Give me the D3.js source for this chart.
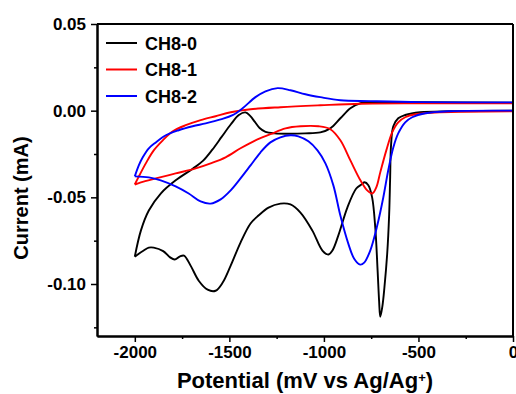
<!DOCTYPE html>
<html>
<head>
<meta charset="utf-8">
<script src="https://cdn.jsdelivr.net/npm/d3@7"></script>
<style>
  body { margin: 0; background: #fff; }
  text { font-family: "Liberation Sans", Arial, sans-serif; font-weight: bold; }
</style>
</head>
<body>
<div id="chart"></div>
<script>
// Series names and colours
const seriesNames = ["CH8-0", "CH8-1", "CH8-2"];
const seriesColors = ["#000000", "#ff0000", "#0000ff"];

// CH8-0: full loop, anodic branch (-2000 -> 0) then cathodic (0 -> -2000)
const ch80Potential = [-2000, -1968, -1926, -1863, -1784, -1694, -1640, -1590, -1540, -1493, -1450, -1415, -1390, -1365, -1340, -1309, -1260, -1180, -1100, -1019, -966, -913, -860, -807, -702, -491, 0,
  0, -333, -491, -570, -607, -633, -645, -650, -655, -665, -680, -691, -702, -708, -716, -728, -745, -765, -785, -800, -829, -876, -924, -955, -976, -1008, -1061, -1124, -1177, -1230, -1293, -1346, -1388, -1441, -1493, -1536, -1573, -1615, -1662, -1705, -1740, -1763, -1789, -1815, -1850, -1900, -1926, -1953, -2000];
const ch80Current = [-0.0842, -0.0692, -0.0576, -0.0478, -0.0402, -0.0335, -0.0290, -0.0225, -0.0150, -0.0080, -0.0025, -0.0010, -0.0030, -0.0065, -0.0100, -0.0122, -0.0131, -0.0133, -0.0131, -0.0125, -0.0102, -0.0044, 0.0014, 0.0043, 0.0049, 0.0049, 0.0046,
  0.0000, -0.0003, -0.0009, -0.0025, -0.0044, -0.0090, -0.0200, -0.0400, -0.0600, -0.0820, -0.1020, -0.1130, -0.1189, -0.1100, -0.0923, -0.0680, -0.0500, -0.0430, -0.0413, -0.0425, -0.0449, -0.0559, -0.0721, -0.0807, -0.0830, -0.0807, -0.0692, -0.0588, -0.0541, -0.0536, -0.0559, -0.0605, -0.0651, -0.0761, -0.0894, -0.0993, -0.1039, -0.1033, -0.0981, -0.0894, -0.0836, -0.0842, -0.0859, -0.0845, -0.0810, -0.0790, -0.0790, -0.0807, -0.0842];

// CH8-1
const ch81Potential = [-2000, -1984, -1942, -1900, -1852, -1799, -1731, -1652, -1573, -1493, -1388, -1230, -1019, -807, -491, 0,
  0, -385, -517, -570, -607, -639, -670, -702, -723, -744, -771, -807, -860, -913, -966, -1029, -1124, -1203, -1283, -1362, -1441, -1520, -1599, -1678, -1784, -1889, -1968, -2000];
const ch81Current = [-0.0426, -0.0391, -0.0304, -0.0229, -0.0171, -0.0119, -0.0084, -0.0055, -0.0032, -0.0009, 0.0008, 0.0020, 0.0031, 0.0040, 0.0042, 0.0042,
  -0.0003, -0.0009, -0.0021, -0.0038, -0.0067, -0.0125, -0.0229, -0.0356, -0.0443, -0.0478, -0.0460, -0.0402, -0.0287, -0.0171, -0.0107, -0.0090, -0.0090, -0.0102, -0.0136, -0.0171, -0.0217, -0.0269, -0.0304, -0.0333, -0.0362, -0.0391, -0.0414, -0.0426];

// CH8-2
const ch82Potential = [-2000, -1979, -1958, -1926, -1889, -1836, -1768, -1694, -1625, -1546, -1483, -1430, -1362, -1309, -1245, -1177, -1098, -1019, -913, -755, -491, 0,
  0, -333, -464, -533, -570, -607, -633, -660, -686, -718, -755, -787, -808, -840, -871, -913, -950, -992, -1034, -1082, -1135, -1177, -1230, -1283, -1335, -1388, -1441, -1493, -1546, -1599, -1652, -1715, -1784, -1863, -1926, -2000];
const ch82Current = [-0.0379, -0.0316, -0.0269, -0.0217, -0.0183, -0.0142, -0.0113, -0.0090, -0.0073, -0.0050, -0.0026, 0.0014, 0.0078, 0.0112, 0.0130, 0.0118, 0.0095, 0.0078, 0.0060, 0.0055, 0.0049, 0.0048,
  0.0000, -0.0003, -0.0015, -0.0038, -0.0067, -0.0131, -0.0212, -0.0345, -0.0501, -0.0663, -0.0807, -0.0877, -0.0888, -0.0854, -0.0767, -0.0605, -0.0431, -0.0304, -0.0229, -0.0177, -0.0148, -0.0142, -0.0154, -0.0183, -0.0240, -0.0316, -0.0391, -0.0460, -0.0512, -0.0536, -0.0524, -0.0478, -0.0437, -0.0402, -0.0385, -0.0379];

// Axis ticks
const xTicks = [-2000, -1500, -1000, -500, 0];
const xMinorTicks = [-1750, -1250, -750, -250];
const yTicks = [0.05, 0.00, -0.05, -0.10];
const yMinorTicks = [0.025, -0.025, -0.075, -0.125];

const allPotentials = [ch80Potential, ch81Potential, ch82Potential];
const allCurrents = [ch80Current, ch81Current, ch82Current];

// Dimensions of chart
let margin = { top: 24, right: 3, bottom: 58, left: 97 },
    width = 516 - margin.left - margin.right,
    height = 394 - margin.top - margin.bottom;

let svg = d3.select("#chart").append("svg")
    .attr("width", 516)
    .attr("height", 394)
    .append("g")
    .attr("transform", "translate(" + margin.left + "," + margin.top + ")");

let x = d3.scaleLinear().domain([-2200, 0]).range([0, width]);
let y = d3.scaleLinear().domain([-0.13, 0.05]).range([height, 0]);

const fmtY = d => d3.format(".2f")(d).replace("\u2212", "-");
const fmtX = d => d3.format("d")(d).replace("\u2212", "-");

// clip for the curves
svg.append("clipPath").attr("id", "clip")
  .append("rect").attr("width", width).attr("height", height);

// Curves
let line = d3.line()
    .x(d => x(d[0]))
    .y(d => y(d[1]))
    .curve(d3.curveCatmullRom.alpha(0.5));

seriesNames.forEach((name, i) => {
    let pts = allPotentials[i].map((v, j) => [v, allCurrents[i][j]]);
    // split the loop at the switching potential (0 mV) into two branches
    let turn = allPotentials[i].indexOf(0);
    [pts.slice(0, turn + 1), pts.slice(turn + 1)].forEach(branch => {
        svg.append("path")
            .datum(branch)
            .attr("clip-path", "url(#clip)")
            .attr("fill", "none")
            .attr("stroke", seriesColors[i])
            .attr("stroke-width", 1.9)
            .attr("stroke-linejoin", "round")
            .attr("d", line);
    });
});

// x axis
let xAxisEl = svg.append("g")
    .attr("transform", "translate(0," + height + ")")
    .call(d3.axisBottom(x).tickValues(xTicks).tickFormat(fmtX).tickSize(6).tickPadding(4).tickSizeOuter(0));
svg.append("g")
    .attr("transform", "translate(0," + height + ")")
    .call(d3.axisBottom(x).tickValues(xMinorTicks).tickFormat("").tickSize(3).tickSizeOuter(0));

// y axis
let yAxisEl = svg.append("g")
    .call(d3.axisLeft(y).tickValues(yTicks).tickFormat(fmtY).tickSize(6).tickPadding(5).tickSizeOuter(0));
svg.append("g")
    .call(d3.axisLeft(y).tickValues(yMinorTicks).tickFormat("").tickSize(3).tickSizeOuter(0));

svg.selectAll(".domain").attr("stroke", "#000").attr("stroke-width", 2);
svg.selectAll(".tick line").attr("stroke", "#000").attr("stroke-width", 1.5);
svg.selectAll(".tick text").attr("fill", "#000").style("font-size", "17px");

// box top and right
svg.append("line").attr("x1", 0).attr("x2", width).attr("y1", 0).attr("y2", 0)
    .attr("stroke", "#000").attr("stroke-width", 2);
svg.append("line").attr("x1", width).attr("x2", width).attr("y1", 0).attr("y2", height)
    .attr("stroke", "#000").attr("stroke-width", 2);

// axis titles
let xt = svg.append("text")
    .attr("x", width / 2)
    .attr("y", height + 52)
    .attr("text-anchor", "middle")
    .style("font-size", "22px")
    .text("Potential (mV vs Ag/Ag");
xt.append("tspan").attr("dy", "-0.5em").style("font-size", "13px").text("+");
xt.append("tspan").attr("dy", "0.3em").text(")");

svg.append("text")
    .attr("transform", "translate(" + (28 - margin.left) + "," + (198 - margin.top) + ") rotate(-90)")
    .attr("text-anchor", "middle")
    .style("font-size", "20px")
    .text("Current (mA)");

// Legend
let legend = svg.append("g").attr("transform", "translate(9,19)");
seriesNames.forEach((name, i) => {
    let g = legend.append("g").attr("transform", "translate(0," + i * 26.5 + ")");
    g.append("line").attr("x1", 0).attr("x2", 31).attr("y1", 0).attr("y2", 0)
        .attr("stroke", seriesColors[i]).attr("stroke-width", 2);
    g.append("text").attr("x", 39).attr("y", 6.5).style("font-size", "18px").text(name);
});
</script>
</body>
</html>
